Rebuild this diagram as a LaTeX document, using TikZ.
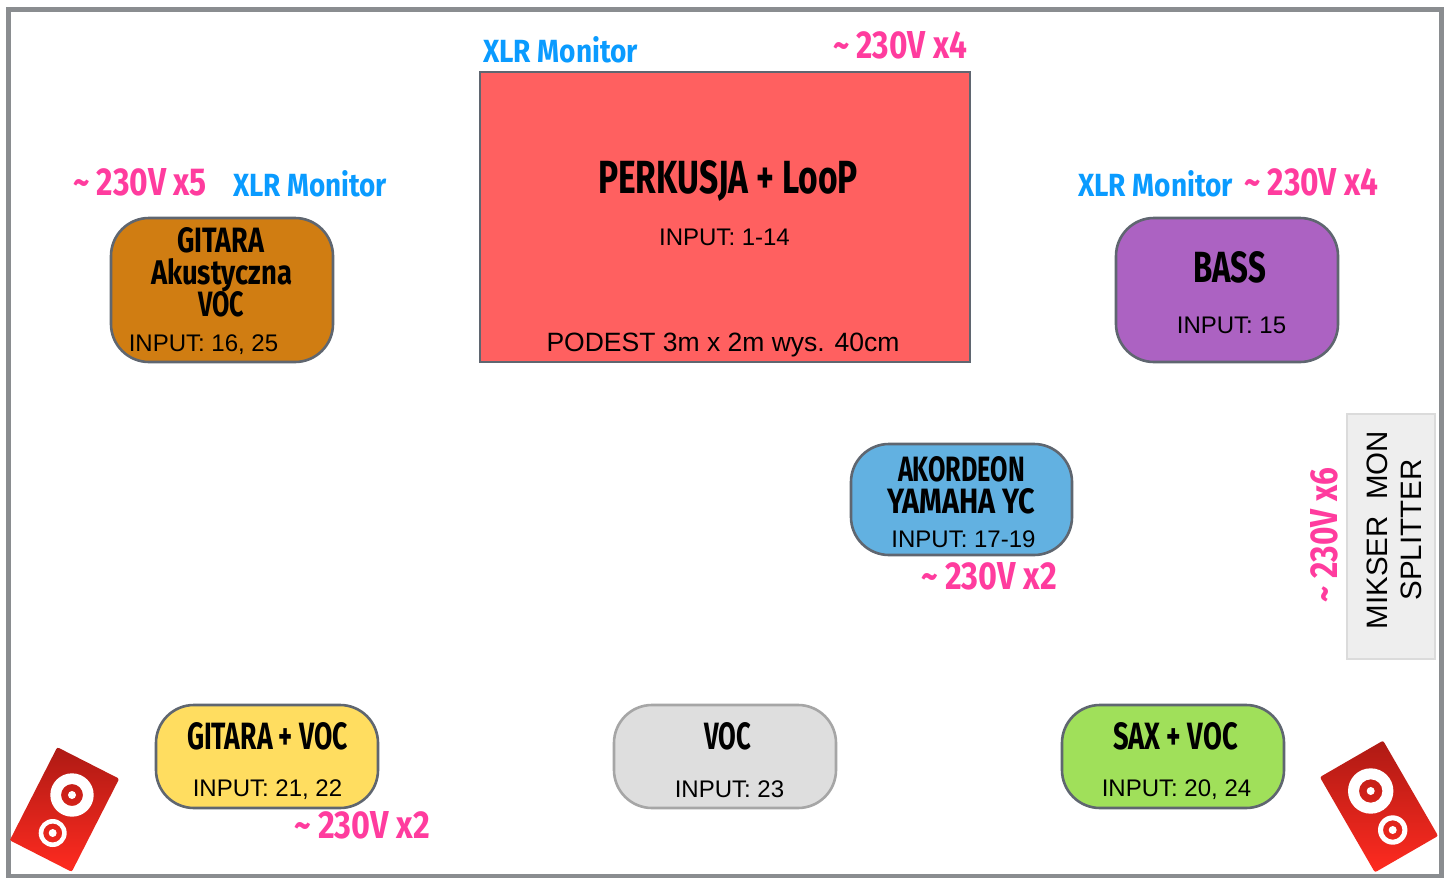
\documentclass[tikz,border=0pt]{standalone}
\usepackage{fontspec}
\usepackage{graphicx}
\setmainfont{Liberation Sans}
\newfontfamily\hwfont{Fira Sans}[UprightFont=* Bold]
\definecolor{framegray}{HTML}{8A8D90}
\definecolor{edgegray}{HTML}{5F6670}
\definecolor{pinklabel}{HTML}{FF3C9E}
\definecolor{bluelabel}{HTML}{0A9BFF}
\definecolor{redbox}{HTML}{FF6060}
\definecolor{brownbox}{HTML}{D07D12}
\definecolor{purplebox}{HTML}{AC62C2}
\definecolor{bluebox}{HTML}{62B1E1}
\definecolor{yellowbox}{HTML}{FFDD60}
\definecolor{graybox}{HTML}{DEDEDE}
\definecolor{greenbox}{HTML}{A0E05A}
\definecolor{spkdark}{HTML}{AE1A14}
\definecolor{spklight}{HTML}{FF2B20}
\newcommand{\hw}[7][black]{%
  \node[inner sep=0pt,outer sep=0pt,anchor=base west,text=#1] (#2) at (#3,#4)
    {\resizebox{#5pt}{#6pt}{\hwfont #7}};}
\newcommand{\tld}{\string~}
\tikzset{
  x=1pt,y=-1pt,
  stagebox/.style={draw=edgegray,line width=2.6pt,rounded corners=38pt,inner sep=0pt,outer sep=0pt},
  inputlabel/.style={inner sep=0pt,outer sep=0pt,font=\fontsize{24}{28}\selectfont,text=black},
  ringfill/.style={fill=white,even odd rule},
}
\newcommand{\speakerbody}[5]{%
  \begin{scope}[shift={(#1,#2)},rotate=#3]
    \shade[rounded corners=2pt,top color=spkdark,bottom color=spklight]
      (-#4/2,-#5/2) rectangle (#4/2,#5/2);
  \end{scope}}
\begin{document}
\begin{tikzpicture}
\useasboundingbox (0,0) rectangle (1451,878);
\fill[white] (0,0) rectangle (1451,878);
\draw[framegray,line width=5pt] (8,9) rectangle (1441.5,876.5);

% boxes
\node[draw=edgegray,line width=2.4pt,fill=redbox,minimum width=490pt,minimum height=290pt,inner sep=0pt,outer sep=0pt] (drums) at (725,217) {};
\node[stagebox,fill=brownbox,minimum width=222pt,minimum height=144pt] (gitA) at (222,290) {};
\node[stagebox,fill=purplebox,minimum width=222pt,minimum height=144pt] (bass) at (1227,290) {};
\node[stagebox,fill=bluebox,minimum width=221pt,minimum height=111pt] (akord) at (961.5,499.5) {};
\node[stagebox,fill=yellowbox,minimum width=222pt,minimum height=103pt] (gitV) at (267,756.5) {};
\node[stagebox,draw=black!35,fill=graybox,minimum width=222pt,minimum height=103pt] (voc) at (725,756.5) {};
\node[stagebox,fill=greenbox,minimum width=222pt,minimum height=103pt] (sax) at (1173,756.5) {};
\node[draw=black!14,line width=2.6pt,fill=black!6.5,minimum width=88pt,minimum height=245pt,inner sep=0pt,outer sep=0pt] (split) at (1391,536.5) {};

% splitter text
\node[rotate=90,inner sep=0pt,align=center,font=\fontsize{29.5}{34}\selectfont] (splitT) at (1394,530) {MIKSER\ \ MON\\SPLITTER};

% instrument names
\hw{t1}{598}{193}{260}{33}{PERKUSJA + LooP}
\hw{t2}{177}{252}{87}{25}{GITARA}
\hw{t3}{151}{284}{141}{26}{Akustyczna}
\hw{t4}{198}{316}{46}{25}{VOC}
\hw{t5}{1193}{282}{73}{31}{BASS}
\hw{t6}{898}{481}{127}{25}{AKORDEON}
\hw{t7}{887}{513}{148}{25}{YAMAHA YC}
\hw{t8}{187}{749}{161}{27}{GITARA + VOC}
\hw{t9}{704}{749}{47}{27}{VOC}
\hw{t10}{1113}{749}{125}{27}{SAX + VOC}

% inputs
\node[inputlabel] (i1) at (724.5,237) {INPUT: 1-14};
\node[inputlabel,font=\fontsize{26.5}{30}\selectfont] (i2) at (723,345) {PODEST 3m x 2m wys. 40cm};
\node[inputlabel] (i3) at (203.5,345) {INPUT: 16, 25};
\node[inputlabel] (i4) at (1231.5,325.5) {INPUT: 15};
\node[inputlabel] (i5) at (963.5,539) {INPUT: 17-19};
\node[inputlabel] (i6) at (267.5,789.5) {INPUT: 21, 22};
\node[inputlabel] (i7) at (729.5,789.5) {INPUT: 23};
\node[inputlabel] (i8) at (1176.5,789.5) {INPUT: 20, 24};

% monitor labels
\hw[bluelabel]{m1}{483}{62}{155}{26}{XLR Monitor}
\hw[bluelabel]{m2}{233}{196}{154}{26}{XLR Monitor}
\hw[bluelabel]{m3}{1078}{196}{155}{26}{XLR Monitor}

% power labels
\hw[pinklabel]{p1}{833}{59}{134}{27}{\tld{} 230V x4}
\hw[pinklabel]{p2}{73}{195}{134}{27}{\tld{} 230V x5}
\hw[pinklabel]{p3}{1244}{195}{134}{27}{\tld{} 230V x4}
\hw[pinklabel]{p4}{921}{589}{136}{27}{\tld{} 230V x2}
\hw[pinklabel]{p5}{294}{838}{136}{27}{\tld{} 230V x2}
\node[inner sep=0pt,outer sep=0pt,anchor=base west,rotate=90,text=pinklabel] (p6) at (1337,602)
  {\resizebox{134pt}{27pt}{\hwfont \tld{} 230V x6}};

% speakers
\speakerbody{64.5}{809.5}{-27}{69.5}{104.5}
\fill[ringfill] (72,795) circle (21.7pt) (72,795) circle (11pt) (72,795) circle (4pt);
\fill[ringfill] (52.7,833) circle (14pt) (52.7,833) circle (9.5pt) (52.7,833) circle (4pt);
\speakerbody{1379}{806.5}{30}{73}{110}
\fill[ringfill] (1370.7,791) circle (22.7pt) (1370.7,791) circle (11.7pt) (1370.7,791) circle (4pt);
\fill[ringfill] (1392.7,830) circle (14.7pt) (1392.7,830) circle (9.7pt) (1392.7,830) circle (4pt);
\end{tikzpicture}
\end{document}
